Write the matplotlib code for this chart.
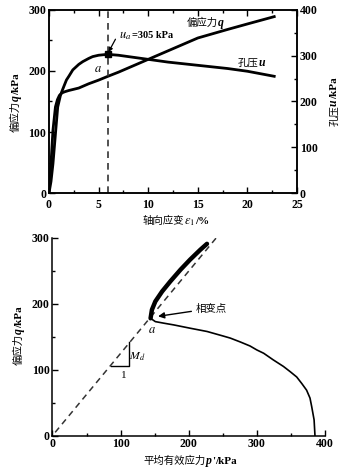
import matplotlib
matplotlib.use("Agg")
import matplotlib.pyplot as plt
from matplotlib.ticker import MultipleLocator
from matplotlib.transforms import IdentityTransform

plt.rcParams['font.family'] = ['Liberation Serif', 'Noto Sans CJK SC']
plt.rcParams['mathtext.fontset'] = 'stix'
plt.rcParams['axes.linewidth'] = 1.1

# ---- Top chart data: deviator stress q and pore pressure u vs axial strain ----
eps_q = [0, 0.1, 0.2, 0.4, 0.65, 0.85, 1.05, 1.3, 1.6, 2.0, 2.5, 3, 4, 5, 5.9,
         7, 8, 10, 12, 15, 18, 20, 22.7]
q_vals = [0, 22, 48, 103, 141, 153, 160, 164, 166, 168, 170, 172, 179, 185, 191,
          198, 205, 219, 233, 254, 268, 277, 289]

eps_u = [0, 0.2, 0.4, 0.68, 0.88, 1.15, 1.3, 1.5, 1.76, 2.0, 2.4, 3.0, 3.4, 4.0,
         4.4, 5.0, 5.9, 7, 8, 10, 12, 15, 18, 20, 22.7]
u_vals = [0, 25, 64, 137, 188, 213, 222, 233, 247, 255, 269, 281, 287, 294,
          298, 301, 303, 301, 298, 292, 286, 279, 272, 266, 255]

eps_a = 5.9
u_a = 303

# ---- Bottom chart data: effective stress path ----
p_lower = [385.3, 384, 380.5, 378, 373, 366, 358.5, 349, 339, 324, 310, 300, 290,
           276, 261, 251, 227, 202, 178, 163, 151, 144]
q_lower = [0, 24, 44, 57, 69, 79, 89, 97, 105, 115, 125, 130, 136,
           142, 148, 151, 158, 163, 168, 170.7, 173, 178]
p_upper = [144, 146, 151, 161, 173, 188, 202, 217, 226.8]
q_upper = [178, 191, 203.6, 218.8, 234, 251.8, 267, 282, 291]
csl_p = [4, 242]
csl_q = [5, 302]
tri_p = [86, 113, 113]
tri_q = [105, 105, 142]

CJK = dict(family='Noto Sans CJK SC', fontsize=7.5, weight='normal')
ITB = dict(family='Liberation Serif', fontsize=8.5, style='italic', weight='bold')
SRB = dict(family='Liberation Serif', fontsize=8, weight='bold')
MTH = dict(fontsize=9)

fig = plt.figure(figsize=(3.45, 4.72), dpi=100)
renderer = fig.canvas.get_renderer()


def rich(parts, cx, cy, rotation=0):
    """Draw a run of differently styled texts, centred at pixel (cx, cy) on the baseline."""
    objs, widths = [], []
    for s, kw in parts:
        t = fig.text(0, 0, s, transform=IdentityTransform(), rotation_mode='anchor',
                     ha='left', va='baseline', **kw)
        widths.append(t.get_window_extent(renderer).width)
        objs.append(t)
    pos = -sum(widths) / 2
    for t, w in zip(objs, widths):
        if rotation == 0:
            t.set_position((cx + pos, cy))
        else:
            t.set_rotation(90)
            t.set_position((cx, cy + pos))
        pos += w


def style_ticks(a, **extra):
    a.tick_params(which='both', direction='in', labelsize=8.5, width=1, pad=2, **extra)
    a.tick_params(which='major', length=4)
    a.tick_params(which='minor', length=2)


# ================= Top chart =================
ax = fig.add_axes([0.142, 0.591, 0.719, 0.388])
ax.plot(eps_q, q_vals, color='black', lw=2.0)
ax.axvline(eps_a, color='#333333', lw=1.2, ls=(0, (4, 3)))
ax.set_xlim(0, 25)
ax.set_ylim(0, 300)
ax.xaxis.set_major_locator(MultipleLocator(5))
ax.xaxis.set_minor_locator(MultipleLocator(2.5))
ax.yaxis.set_major_locator(MultipleLocator(100))
ax.yaxis.set_minor_locator(MultipleLocator(50))
style_ticks(ax, top=True)
ax.tick_params(axis='x', pad=4)
for lbl in ax.get_xticklabels() + ax.get_yticklabels():
    lbl.set_fontweight('bold')

ax2 = ax.twinx()
ax2.plot(eps_u, u_vals, color='black', lw=2.0)
ax2.plot([eps_a], [u_a], marker='s', ms=5, color='black')
ax2.set_ylim(0, 400)
ax2.yaxis.set_major_locator(MultipleLocator(100))
ax2.yaxis.set_minor_locator(MultipleLocator(50))
style_ticks(ax2)
for lbl in ax2.get_yticklabels():
    lbl.set_fontweight('bold')

ax2.annotate('', xy=(eps_a + 0.1, u_a + 5), xytext=(6.7, 336),
             arrowprops=dict(arrowstyle='-|>', color='black', lw=0.9,
                             mutation_scale=6, shrinkA=0, shrinkB=0))
px, py = ax2.transData.transform((9.8, 339))
rich([('$u_a$', MTH), ('=305 kPa', dict(family='Liberation Serif', fontsize=7.5, weight='bold'))], px, py)
px, py = ax.transData.transform((15.7, 274))
rich([('偏应力', CJK), ('q', ITB)], px, py)
px, py = ax.transData.transform((20.4, 208))
rich([('孔压', CJK), ('u', ITB)], px, py)
ax.text(4.95, 204, '$a$', fontsize=9, ha='center', va='center')

# axis labels of the top chart
rich([('轴向应变', CJK), ('$\\varepsilon_1$', MTH), ('/%', SRB)], 176, 248)
rich([('偏应力', CJK), ('q', ITB), ('/kPa', SRB)], 19, 369, rotation=90)
rich([('孔压', CJK), ('u', ITB), ('/kPa', SRB)], 337, 370, rotation=90)

# ================= Bottom chart =================
bx = fig.add_axes([0.152, 0.077, 0.790, 0.419])
bx.plot(csl_p, csl_q, color='#333333', lw=1.1, ls=(0, (4, 3)))
bx.plot(p_lower, q_lower, color='black', lw=1.2)
bx.plot(p_upper, q_upper, color='black', lw=3.2, solid_capstyle='round')
bx.plot(tri_p, tri_q, color='black', lw=1.0)
bx.set_xlim(0, 400)
bx.set_ylim(0, 300)
bx.spines['top'].set_visible(False)
bx.spines['right'].set_visible(False)
bx.xaxis.set_major_locator(MultipleLocator(100))
bx.xaxis.set_minor_locator(MultipleLocator(50))
bx.yaxis.set_major_locator(MultipleLocator(100))
bx.yaxis.set_minor_locator(MultipleLocator(50))
style_ticks(bx)
for lbl in bx.get_xticklabels() + bx.get_yticklabels():
    lbl.set_fontweight('bold')

bx.annotate('相变点', xy=(155, 181), xytext=(210, 193), ha='left', va='center',
            fontfamily='Noto Sans CJK SC', fontsize=7.5,
            arrowprops=dict(arrowstyle='-|>', color='black', lw=1.0,
                            mutation_scale=9, shrinkA=1, shrinkB=0))
bx.text(146, 160, '$a$', fontsize=9, ha='center', va='center')
bx.text(124, 120, '$M_d$', fontsize=8.5, ha='center', va='center')
bx.text(104, 91, '1', fontsize=8, ha='center', va='center')

rich([('平均有效应力', CJK), ('p', ITB), ("'", SRB), ('/kPa', SRB)], 190, 8)
rich([('偏应力', CJK), ('q', ITB), ('/kPa', SRB)], 22, 136, rotation=90)

fig.savefig('out.png', dpi=100)
